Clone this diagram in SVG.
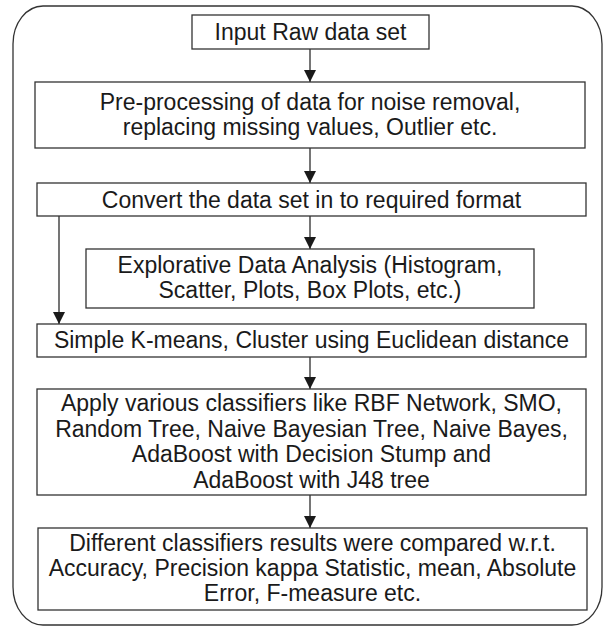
<svg xmlns="http://www.w3.org/2000/svg" width="603" height="626" viewBox="0 0 603 626">
  <defs>
    <marker id="arrow" viewBox="0 0 12 12" refX="12" refY="6" markerWidth="12" markerHeight="12" markerUnits="userSpaceOnUse" orient="auto">
      <path d="M0,0 L12,6 L0,12 Z" fill="#1a1a1a"/>
    </marker>
  </defs>
  <style>
    .frame { fill: none; stroke: #333; stroke-width: 1.3; }
    .box { fill: #fff; stroke: #333; stroke-width: 1.3; }
    .lbl { font-family: "Liberation Sans", Arial, sans-serif; font-size: 23px; fill: #1a1a1a; text-anchor: middle; }
    .edge { fill: none; stroke: #1a1a1a; stroke-width: 1.2; marker-end: url(#arrow); }
  </style>
  <rect width="603" height="626" fill="#fff"/>
  <!-- outer rounded frame -->
  <rect class="frame" x="13" y="6" width="589" height="619" rx="30" ry="38"/>

  <g id="connectors">
    <line class="edge" x1="310" y1="49" x2="310" y2="82"/>
    <line class="edge" x1="310" y1="148" x2="310" y2="183"/>
    <line class="edge" x1="310" y1="216" x2="310" y2="249"/>
    <line class="edge" x1="59" y1="216" x2="59" y2="324"/>
    <line class="edge" x1="310" y1="357" x2="310" y2="389"/>
    <line class="edge" x1="310" y1="495" x2="310" y2="528"/>
  </g>

  <g id="input">
    <rect class="box" x="192" y="15" width="237" height="34"/>
    <text class="lbl" x="310.5" y="40">Input Raw data set</text>
  </g>

  <g id="preprocess">
    <rect class="box" x="35" y="82" width="550" height="66"/>
    <text class="lbl" x="310" y="110">Pre-processing of data for noise removal,</text>
    <text class="lbl" x="310" y="135">replacing missing values, Outlier etc.</text>
  </g>

  <g id="convert">
    <rect class="box" x="37" y="183" width="549" height="33"/>
    <text class="lbl" x="311.5" y="207.5">Convert the data set in to required format</text>
  </g>

  <g id="eda">
    <rect class="box" x="86" y="249" width="448" height="59"/>
    <text class="lbl" x="310" y="272.5">Explorative Data Analysis (Histogram,</text>
    <text class="lbl" x="310" y="297.5">Scatter, Plots, Box Plots, etc.)</text>
  </g>

  <g id="kmeans">
    <rect class="box" x="37" y="324" width="549" height="33"/>
    <text class="lbl" x="311.5" y="348">Simple K-means, Cluster using Euclidean distance</text>
  </g>

  <g id="classifiers">
    <rect class="box" x="37" y="389" width="549" height="106"/>
    <text class="lbl" x="311.5" y="411">Apply various classifiers like RBF Network, SMO,</text>
    <text class="lbl" x="311.5" y="436.5">Random Tree, Naive Bayesian Tree, Naive Bayes,</text>
    <text class="lbl" x="311.5" y="462">AdaBoost with Decision Stump and</text>
    <text class="lbl" x="311.5" y="487.5">AdaBoost with J48 tree</text>
  </g>

  <g id="compare">
    <rect class="box" x="38" y="528" width="549" height="82"/>
    <text class="lbl" x="312.5" y="550.5">Different classifiers results were compared w.r.t.</text>
    <text class="lbl" x="312.5" y="575.5">Accuracy, Precision kappa Statistic, mean, Absolute</text>
    <text class="lbl" x="312.5" y="600.5">Error, F-measure etc.</text>
  </g>
</svg>
